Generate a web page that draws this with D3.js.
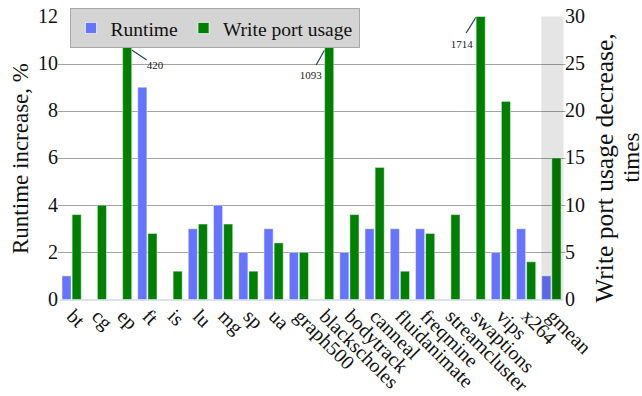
<!DOCTYPE html>
<html><head><meta charset="utf-8"><script src="https://cdn.jsdelivr.net/npm/d3@7"></script></head>
<body style="margin:0">
<svg id="chart" width="642" height="396"></svg>
<script>
const categories = ["bt","cg","ep","ft","is","lu","mg","sp","ua","graph500","blackscholes","bodytrack","canneal","fluidanimate","freqmine","streamcluster","swaptions","vips","x264","gmean"];
const runtime = [1,0,0,9,0,3,4,2,3,2,0,2,3,3,3,0,0,2,3,1];
const writePort = [9,10,420,7,3,8,8,3,6,5,1093,9,14,3,7,9,1714,21,4,15];
const leftTicks = [0,2,4,6,8,10,12];
const rightTicks = [0,5,10,15,20,25,30];
const seriesNames = ["Runtime","Write port usage"];
const seriesColors = ["#6673ff","#008000"];
const leftTitle = "Runtime increase, %";
const rightTitle = ["Write port usage decrease,", "times"];
const highlighted = "gmean";

const FONT = d => "Liberation Serif";
const svg = d3.select("#chart");
const L = 59.5, R = 563.5, T = 16.5, B = 299.5;

const x0 = d3.scaleBand().domain(categories).range([L, R]).paddingInner(0.24).paddingOuter(0.1);
const x1 = d3.scaleBand().domain([0,1]).range([0, x0.bandwidth()]).paddingInner(0.1);
const yL = d3.scaleLinear().domain([0,12]).range([B, T]);
const yR = d3.scaleLinear().domain([0,30]).range([B, T]).clamp(true);

// gridlines
svg.append("g").selectAll("line").data(leftTicks.filter(d => d > 0 && d < 12)).join("line")
  .attr("x1", L - 1.5).attr("x2", R + 2)
  .attr("y1", d => Math.round(yL(d)) + 0.5).attr("y2", d => Math.round(yL(d)) + 0.5)
  .attr("stroke", "#a3a3a3").attr("stroke-width", 1);

// baseline
svg.append("line").attr("x1", L).attr("x2", R).attr("y1", B + 0.5).attr("y2", B + 0.5)
  .attr("stroke", "#dde2f0").attr("stroke-width", 2);

// annotation leader lines for clipped bars
const annotations = [
  {cat: "ep", value: 420},
  {cat: "blackscholes", value: 1093},
  {cat: "swaptions", value: 1714}
];
const annStyle = {
  ep: {sx: 1, sy: 50, ex: 15, ey: 60, tx: 15, ty: 68.5, anchor: "start"},
  blackscholes: {sx: 0, sy: 50, ex: -8.5, ey: 65, tx: -3, ty: 79, anchor: "end"},
  swaptions: {sx: 0, sy: 17, ex: -10, ey: 33, tx: -3.5, ty: 48, anchor: "end"}
};
const annEdge = a => { const s = annStyle[a.cat]; const bx = x0(a.cat) + x1(1); return s.sx === 1 ? bx + x1.bandwidth() : bx; };
svg.append("g").selectAll("line").data(annotations).join("line")
  .attr("x1", a => annEdge(a)).attr("y1", a => annStyle[a.cat].sy)
  .attr("x2", a => annEdge(a) + annStyle[a.cat].ex).attr("y2", a => annStyle[a.cat].ey)
  .attr("stroke", "#233f5e").attr("stroke-width", 1.2);

// bars
const rows = categories.map((c, i) => ({cat: c, vals: [yR.invert(yL(runtime[i])), writePort[i]]}));
const groups = svg.append("g").selectAll("g").data(rows).join("g")
  .attr("transform", d => `translate(${x0(d.cat)},0)`);
groups.selectAll("rect").data(d => d.vals.map((v, k) => ({k, v})).filter(e => e.v > 0)).join("rect")
  .attr("x", e => x1(e.k))
  .attr("y", e => yR(e.v))
  .attr("width", x1.bandwidth())
  .attr("height", e => B - yR(e.v))
  .attr("fill", e => seriesColors[e.k])
  .attr("stroke", "rgba(255,255,255,0.45)")
  .attr("stroke-width", 1);

// highlight overlay for gmean
svg.append("rect")
  .attr("x", x0(highlighted) - 0.5).attr("y", T)
  .attr("width", R - x0(highlighted) + 0.5).attr("height", B - T)
  .attr("fill", "#000").attr("fill-opacity", 0.1);

// annotation labels
svg.selectAll("text.ann").data(annotations).join("text").attr("class", "ann")
  .attr("x", a => annEdge(a) + annStyle[a.cat].tx)
  .attr("y", a => annStyle[a.cat].ty)
  .attr("text-anchor", a => annStyle[a.cat].anchor)
  .attr("font-family", FONT).attr("font-size", 11).attr("fill", "#222")
  .text(a => a.value);

// tick labels
const fontTick = 20;
svg.selectAll("text.tl").data(leftTicks).join("text").attr("class", "tl")
  .attr("x", L - 1.5).attr("y", d => yL(d)).attr("dy", "0.32em")
  .attr("text-anchor", "end")
  .attr("font-family", FONT).attr("font-size", fontTick).attr("fill", "#111")
  .text(d3.format("d"));
svg.selectAll("text.tr").data(rightTicks).join("text").attr("class", "tr")
  .attr("x", R + 1.5).attr("y", d => yR(d)).attr("dy", "0.32em")
  .attr("text-anchor", "start")
  .attr("font-family", FONT).attr("font-size", fontTick).attr("fill", "#111")
  .text(d3.format("d"));

// category labels
svg.selectAll("text.xl").data(categories).join("text").attr("class", "xl")
  .attr("transform", d => `translate(${x0(d) + x0.bandwidth()/2 - 6},317.5) rotate(45)`)
  .attr("font-family", FONT).attr("font-size", 20).attr("fill", "#111")
  .text(d => d);

// axis titles
svg.selectAll("text.lt").data([leftTitle]).join("text").attr("class", "lt")
  .attr("transform", `translate(27.5,158.5) rotate(-90)`)
  .attr("text-anchor", "middle")
  .attr("font-family", FONT).attr("font-size", 23).attr("fill", "#111")
  .text(d => d);
const rtPos = [{x: 612.5, y: 168, size: 25.5}, {x: 639, y: 157.5, size: 23}];
svg.selectAll("text.rt").data(rightTitle).join("text").attr("class", "rt")
  .attr("transform", (d, i) => `translate(${rtPos[i].x},${rtPos[i].y}) rotate(-90)`)
  .attr("text-anchor", "middle")
  .attr("font-family", FONT).attr("font-size", (d, i) => rtPos[i].size).attr("fill", "#111")
  .text(d => d);

// legend
svg.append("rect").attr("x", 70.5).attr("y", 8.5).attr("width", 289).attr("height", 39)
  .attr("fill", "#d4d4d4").attr("stroke", "#a8a8a8").attr("stroke-width", 1);
const legendX = [85.5, 198];
svg.selectAll("rect.lgs").data(seriesNames).join("rect").attr("class", "lgs")
  .attr("x", (d, i) => legendX[i]).attr("y", 22.5).attr("width", 11).attr("height", 11)
  .attr("fill", (d, i) => seriesColors[i]).attr("stroke", "rgba(255,255,255,0.6)");
svg.selectAll("text.lgt").data(seriesNames).join("text").attr("class", "lgt")
  .attr("x", (d, i) => legendX[i] + 25).attr("y", 35.5)
  .attr("font-family", FONT).attr("font-size", 19.5).attr("fill", "#111")
  .text(d => d);
</script>
</body>
</html>
